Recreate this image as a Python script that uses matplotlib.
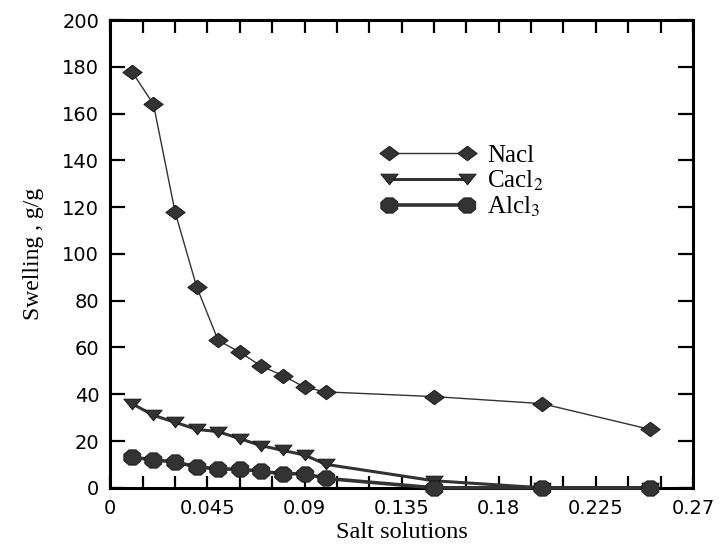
import numpy as np
import matplotlib.pyplot as plt
from matplotlib.ticker import MultipleLocator

# datos
conc = [0.01, 0.02, 0.03, 0.04, 0.05, 0.06, 0.07, 0.08, 0.09, 0.10, 0.15, 0.20, 0.25]
nacl = [178, 164, 118, 86, 63, 58, 52, 48, 43, 41, 39, 36, 25]
cacl2 = [36, 31, 28, 25, 24, 21, 18, 16, 14, 10, 3, 0, 0]
alcl3 = [13, 12, 11, 9, 8, 8, 7, 6, 6, 4, 0, 0, 0]

x_ticks = [0, 0.045, 0.09, 0.135, 0.18, 0.225, 0.27]
x_labels = ['0', '0.045', '0.09', '0.135', '0.18', '0.225', '0.27']

plt.rcParams['mathtext.fontset'] = 'stix'

# marcadores un poco achatados como en el original
rombo = [(-1, 0), (0, 0.75), (1, 0), (0, -0.75), (-1, 0)]
triangulo = [(-1, 0.62), (1, 0.62), (0, -0.62), (-1, 0.62)]
ang = np.deg2rad(np.arange(22.5, 382.5, 45))
octagono = list(zip(np.cos(ang), 0.88 * np.sin(ang)))

gris = '#333333'

fig = plt.figure(figsize=(7.21, 5.45), dpi=100)
ax = fig.add_axes([0.153, 0.105, 0.808, 0.858])

ax.plot(conc, nacl, color=gris, lw=1.0, marker=rombo, ms=14,
        mfc=gris, mec='#111111', mew=0.6, label='Nacl', clip_on=False, zorder=3)
ax.plot(conc, cacl2, color=gris, lw=2.2, marker=triangulo, ms=12.5,
        mfc=gris, mec='#111111', mew=0.6, label=r'Cacl$_2$', clip_on=False, zorder=4)
ax.plot(conc, alcl3, color=gris, lw=2.6, marker=octagono, ms=12.5,
        mfc=gris, mec='#111111', mew=0.6, label=r'Alcl$_3$', clip_on=False, zorder=5)

ax.set_xlim(0, 0.27)
ax.set_ylim(0, 200)
ax.set_xticks(x_ticks)
ax.set_xticklabels(x_labels)
ax.xaxis.set_minor_locator(MultipleLocator(0.015))
ax.yaxis.set_major_locator(MultipleLocator(20))

for s in ax.spines.values():
    s.set_linewidth(2.2)

ax.tick_params(axis='x', which='both', direction='in', top=True, length=9, width=1.6)
ax.tick_params(axis='y', which='both', direction='in', right=True, length=11, width=1.6)
ax.tick_params(axis='both', which='major', labelsize=14, pad=8)
for lab in ax.get_xticklabels() + ax.get_yticklabels():
    lab.set_family('DejaVu Sans')

ax.set_xlabel('Salt solutions', family='Liberation Serif', fontsize=17.5, labelpad=3)
ax.set_ylabel('Swelling , g/g', family='Liberation Serif', fontsize=17, labelpad=13)

ax.legend(loc='upper left', bbox_to_anchor=(0.466, 0.735), frameon=False,
          numpoints=2, handlelength=3.7, handletextpad=0.5, labelspacing=0.08,
          borderpad=0, borderaxespad=0,
          prop={'family': 'Liberation Serif', 'size': 18})

fig.savefig('out.png', dpi=100)
